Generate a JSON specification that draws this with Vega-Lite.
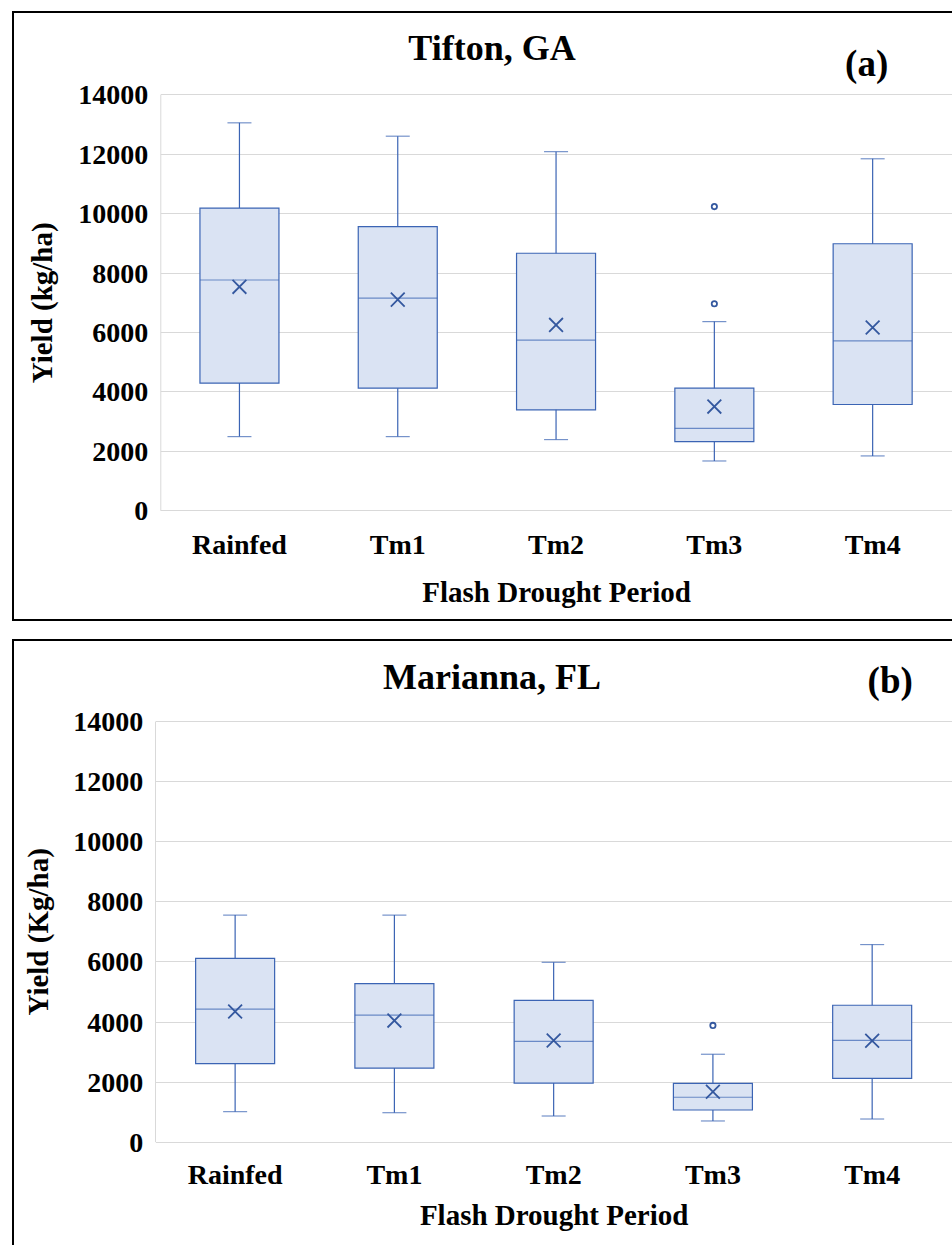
{
  "$schema": "https://vega.github.io/schema/vega-lite/v6.json",
  "background": "white",
  "padding": {"left": 12, "top": 11, "right": -18, "bottom": -2},
  "spacing": 18,
  "config": {
    "font": "Liberation Serif",
    "view": {"stroke": "black", "strokeWidth": 2}
  },
  "datasets": {
    "tifton": [
      {"cat": "Rainfed", "min": 2480, "q1": 4280, "median": 7750, "q3": 10170, "max": 13040, "mean": 7520},
      {"cat": "Tm1", "min": 2480, "q1": 4110, "median": 7140, "q3": 9550, "max": 12590, "mean": 7090},
      {"cat": "Tm2", "min": 2380, "q1": 3380, "median": 5730, "q3": 8650, "max": 12070, "mean": 6240},
      {"cat": "Tm3", "min": 1660, "q1": 2310, "median": 2760, "q3": 4110, "max": 6350, "mean": 3490},
      {"cat": "Tm4", "min": 1830, "q1": 3560, "median": 5700, "q3": 8970, "max": 11830, "mean": 6150}
    ],
    "tifton_out": [
      {"cat": "Tm3", "value": 10220},
      {"cat": "Tm3", "value": 6950}
    ],
    "marianna": [
      {"cat": "Rainfed", "min": 1000, "q1": 2600, "median": 4410, "q3": 6100, "max": 7540, "mean": 4330},
      {"cat": "Tm1", "min": 965, "q1": 2450, "median": 4210, "q3": 5260, "max": 7540, "mean": 4030},
      {"cat": "Tm2", "min": 855, "q1": 1950, "median": 3340, "q3": 4700, "max": 5970, "mean": 3370},
      {"cat": "Tm3", "min": 690, "q1": 1055, "median": 1480, "q3": 1940, "max": 2910, "mean": 1665},
      {"cat": "Tm4", "min": 755, "q1": 2110, "median": 3370, "q3": 4540, "max": 6560, "mean": 3360}
    ],
    "marianna_out": [
      {"cat": "Tm3", "value": 3870}
    ]
  },
  "vconcat": [
    {
      "width": 958,
      "height": 608,
      "title": {"text": "Tifton, GA", "orient": "top", "anchor": "middle", "frame": "group", "offset": -84, "baseline": "alphabetic", "font": "Liberation Serif", "fontSize": 36, "fontWeight": "bold", "color": "black"},
      "data": {"name": "tifton"},
      "encoding": {
        "x": {
          "field": "cat", "type": "nominal",
          "scale": {"domain": ["Rainfed", "Tm1", "Tm2", "Tm3", "Tm4"], "range": [147.3, 938.8], "paddingInner": 0, "paddingOuter": 0},
          "axis": {"orient": "bottom", "offset": -109.7, "domain": false, "ticks": false, "tickSize": 0, "grid": false, "labelAngle": 0, "labelPadding": 43.4, "labelBaseline": "alphabetic", "labelFont": "Liberation Serif", "labelFontSize": 28, "labelFontWeight": "bold", "labelColor": "black", "title": "Flash Drought Period", "titleFont": "Liberation Serif", "titleFontSize": 29, "titleFontWeight": "bold", "titleColor": "black", "titleY": 90.7, "titleBaseline": "alphabetic"}
        }
      },
      "layer": [
        {
          "mark": {"type": "rule", "color": "#3b64b4", "strokeWidth": 1.2},
          "encoding": {
            "y": {"field": "min", "type": "quantitative", "title": "Yield (kg/ha)",
              "scale": {"domain": [0, 14000], "range": [498.3, 82.3], "nice": false, "zero": true},
              "axis": {"orient": "left", "offset": -147.3, "values": [0, 2000, 4000, 6000, 8000, 10000, 12000, 14000], "format": "d", "domain": true, "domainColor": "#d9d9d9", "domainWidth": 1, "ticks": false, "tickSize": 0, "grid": true, "gridColor": "#d9d9d9", "gridWidth": 1, "labelPadding": 12.6, "labelFont": "Liberation Serif", "labelFontSize": 28, "labelFontWeight": "bold", "labelColor": "black", "labelOffset": 1.5, "titleFont": "Liberation Serif", "titleFontSize": 29, "titleFontWeight": "bold", "titleColor": "black", "titleX": -108.6, "titleBaseline": "alphabetic", "titleAngle": -90}},
            "y2": {"field": "max"}
          }
        },
        {
          "mark": {"type": "bar", "size": 79, "fill": "#DAE3F3", "stroke": "#3b64b4", "strokeWidth": 1.2},
          "encoding": {"y": {"field": "q1", "type": "quantitative", "title": "Yield (kg/ha)"}, "y2": {"field": "q3"}}
        },
        {
          "mark": {"type": "tick", "size": 79, "thickness": 1.2, "color": "#3b64b4"},
          "encoding": {"y": {"field": "median", "type": "quantitative", "title": "Yield (kg/ha)"}}
        },
        {
          "mark": {"type": "tick", "size": 24, "thickness": 1.2, "color": "#3b64b4"},
          "encoding": {"y": {"field": "min", "type": "quantitative", "title": "Yield (kg/ha)"}}
        },
        {
          "mark": {"type": "tick", "size": 24, "thickness": 1.2, "color": "#3b64b4"},
          "encoding": {"y": {"field": "max", "type": "quantitative", "title": "Yield (kg/ha)"}}
        },
        {
          "mark": {"type": "point", "shape": "M-1,-1L1,1M-1,1L1,-1", "size": 190, "filled": false, "stroke": "#34589f", "strokeWidth": 1.8, "opacity": 1},
          "encoding": {"y": {"field": "mean", "type": "quantitative", "title": "Yield (kg/ha)"}}
        },
        {
          "data": {"name": "tifton_out"},
          "mark": {"type": "point", "shape": "circle", "size": 28, "filled": false, "stroke": "#34589f", "strokeWidth": 1.8, "opacity": 1},
          "encoding": {"y": {"field": "value", "type": "quantitative", "title": "Yield (kg/ha)"}}
        },
        {
          "data": {"values": [{"label": "(a)"}]},
          "mark": {"type": "text", "font": "Liberation Serif", "fontSize": 37, "fontWeight": "bold", "baseline": "alphabetic", "align": "center", "dx": -6, "color": "black"},
          "encoding": {
            "x": {"datum": "Tm4", "type": "nominal"},
            "y": {"datum": 14620, "type": "quantitative"},
            "text": {"field": "label"}
          }
        }
      ]
    },
    {
      "width": 958,
      "height": 610,
      "title": {"text": "Marianna, FL", "orient": "top", "anchor": "middle", "frame": "group", "offset": -85, "baseline": "alphabetic", "font": "Liberation Serif", "fontSize": 36, "fontWeight": "bold", "color": "black"},
      "data": {"name": "marianna"},
      "encoding": {
        "x": {
          "field": "cat", "type": "nominal",
          "scale": {"domain": ["Rainfed", "Tm1", "Tm2", "Tm3", "Tm4"], "range": [142.5, 938.8], "paddingInner": 0, "paddingOuter": 0},
          "axis": {"orient": "bottom", "offset": -108.3, "domain": false, "ticks": false, "tickSize": 0, "grid": false, "labelAngle": 0, "labelPadding": 41.3, "labelBaseline": "alphabetic", "labelFont": "Liberation Serif", "labelFontSize": 28, "labelFontWeight": "bold", "labelColor": "black", "title": "Flash Drought Period", "titleFont": "Liberation Serif", "titleFontSize": 29, "titleFontWeight": "bold", "titleColor": "black", "titleY": 82.3, "titleBaseline": "alphabetic"}
        }
      },
      "layer": [
        {
          "mark": {"type": "rule", "color": "#3b64b4", "strokeWidth": 1.2},
          "encoding": {
            "y": {"field": "min", "type": "quantitative", "title": "Yield (Kg/ha)",
              "scale": {"domain": [0, 14000], "range": [501.7, 81], "nice": false, "zero": true},
              "axis": {"orient": "left", "offset": -142, "values": [0, 2000, 4000, 6000, 8000, 10000, 12000, 14000], "format": "d", "domain": true, "domainColor": "#d9d9d9", "domainWidth": 1, "ticks": false, "tickSize": 0, "grid": true, "gridColor": "#d9d9d9", "gridWidth": 1, "labelPadding": 12.3, "labelFont": "Liberation Serif", "labelFontSize": 28, "labelFontWeight": "bold", "labelColor": "black", "labelOffset": 1.5, "titleFont": "Liberation Serif", "titleFontSize": 29, "titleFontWeight": "bold", "titleColor": "black", "titleX": -107.5, "titleBaseline": "alphabetic", "titleAngle": -90}},
            "y2": {"field": "max"}
          }
        },
        {
          "mark": {"type": "bar", "size": 79, "fill": "#DAE3F3", "stroke": "#3b64b4", "strokeWidth": 1.2},
          "encoding": {"y": {"field": "q1", "type": "quantitative", "title": "Yield (Kg/ha)"}, "y2": {"field": "q3"}}
        },
        {
          "mark": {"type": "tick", "size": 79, "thickness": 1.2, "color": "#3b64b4"},
          "encoding": {"y": {"field": "median", "type": "quantitative", "title": "Yield (Kg/ha)"}}
        },
        {
          "mark": {"type": "tick", "size": 24, "thickness": 1.2, "color": "#3b64b4"},
          "encoding": {"y": {"field": "min", "type": "quantitative", "title": "Yield (Kg/ha)"}}
        },
        {
          "mark": {"type": "tick", "size": 24, "thickness": 1.2, "color": "#3b64b4"},
          "encoding": {"y": {"field": "max", "type": "quantitative", "title": "Yield (Kg/ha)"}}
        },
        {
          "mark": {"type": "point", "shape": "M-1,-1L1,1M-1,1L1,-1", "size": 190, "filled": false, "stroke": "#34589f", "strokeWidth": 1.8, "opacity": 1},
          "encoding": {"y": {"field": "mean", "type": "quantitative", "title": "Yield (Kg/ha)"}}
        },
        {
          "data": {"name": "marianna_out"},
          "mark": {"type": "point", "shape": "circle", "size": 28, "filled": false, "stroke": "#34589f", "strokeWidth": 1.8, "opacity": 1},
          "encoding": {"y": {"field": "value", "type": "quantitative", "title": "Yield (Kg/ha)"}}
        },
        {
          "data": {"values": [{"label": "(b)"}]},
          "mark": {"type": "text", "font": "Liberation Serif", "fontSize": 37, "fontWeight": "bold", "baseline": "alphabetic", "align": "center", "dx": 18, "color": "black"},
          "encoding": {
            "x": {"datum": "Tm4", "type": "nominal"},
            "y": {"datum": 14930, "type": "quantitative"},
            "text": {"field": "label"}
          }
        }
      ]
    }
  ]
}
